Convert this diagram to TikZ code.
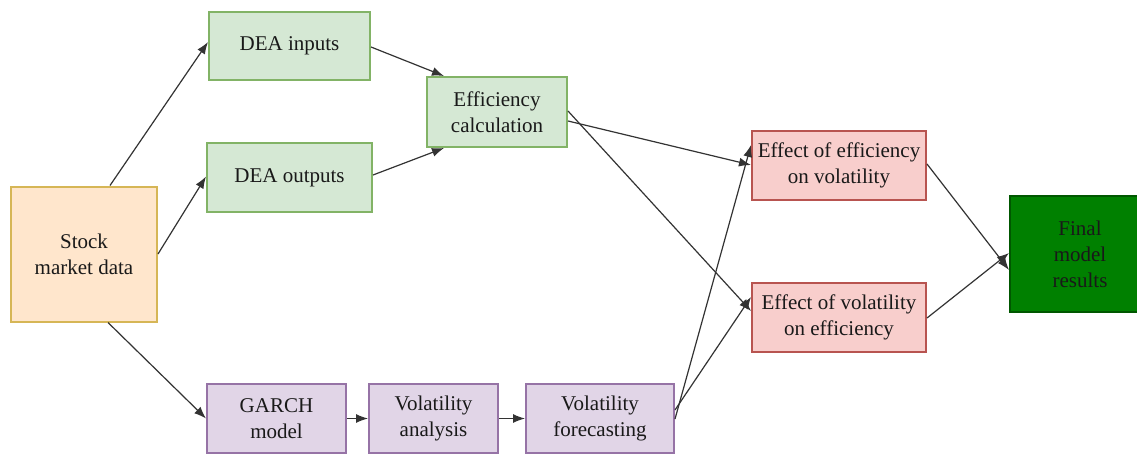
\documentclass[tikz,border=0pt]{standalone}
\usepackage{fontspec}
\setmainfont{Liberation Serif}
\usetikzlibrary{arrows.meta}
\definecolor{gfill}{HTML}{D5E8D4}\definecolor{gdraw}{HTML}{82B366}
\definecolor{ofill}{HTML}{FFE6CC}\definecolor{odraw}{HTML}{D6B656}
\definecolor{pfill}{HTML}{E1D5E7}\definecolor{pdraw}{HTML}{9673A6}
\definecolor{rfill}{HTML}{F8CECC}\definecolor{rdraw}{HTML}{B85450}
\definecolor{dfill}{HTML}{008000}\definecolor{ddraw}{HTML}{005700}
\begin{document}
\begin{tikzpicture}[x=1pt,y=-1pt,
  box/.style={draw, line width=2pt, align=center, inner sep=0pt,
    font=\fontsize{21}{26}\selectfont, text=black!90},
  gbox/.style={box, fill=gfill, draw=gdraw},
  obox/.style={box, fill=ofill, draw=odraw},
  pbox/.style={box, fill=pfill, draw=pdraw},
  rbox/.style={box, fill=rfill, draw=rdraw},
  dbox/.style={box, fill=dfill, draw=ddraw},
  arr/.style={-{Latex[length=12pt,width=9pt]}, line width=1.2pt, draw=black!80}]
\clip (0,0) rectangle (1137,455);
\fill[white] (0,0) rectangle (1137,455);
% nodes: positioned by centre, sized to pixel extents
\node[obox, minimum width=146pt, minimum height=135pt] (stock) at (84,254) {Stock\\market data};
\node[gbox, minimum width=161pt, minimum height=68pt] (din) at (289.5,46) {DEA inputs};
\node[gbox, minimum width=165pt, minimum height=69pt] (dout) at (289.5,177.5) {DEA outputs};
\node[gbox, minimum width=140pt, minimum height=70pt] (eff) at (497,112) {Efficiency\\calculation};
\node[rbox, minimum width=174pt, minimum height=69pt] (ev) at (839,165.5) {Effect of efficiency\\on volatility};
\node[rbox, minimum width=174pt, minimum height=69pt] (ve) at (839,317.5) {Effect of volatility\\on efficiency};
\node[dbox, minimum width=140pt, minimum height=116pt, text width=127pt] (fin) at (1080,254) {Final\\model\\results};
\node[pbox, minimum width=139pt, minimum height=69pt] (garch) at (276.5,418.5) {GARCH\\model};
\node[pbox, minimum width=129pt, minimum height=69pt] (va) at (433.5,418.5) {Volatility\\analysis};
\node[pbox, minimum width=148pt, minimum height=69pt] (vf) at (600,418.5) {Volatility\\forecasting};
% connectors
\draw[arr] ([xshift=26pt]stock.north) -- ([yshift=4pt]din.west);
\draw[arr] (stock.east) -- ([yshift=1pt]dout.west);
\draw[arr] ([xshift=24pt]stock.south) -- ([yshift=0pt]garch.west);
\draw[arr] ([yshift=-1pt]din.east) -- ([xshift=18pt]eff.north west);
\draw[arr] ([yshift=2.5pt]dout.east) -- ([xshift=18pt]eff.south west);
\draw[arr] ([yshift=-9pt]eff.east) -- ([yshift=0.5pt]ev.west);
\draw[arr] ([yshift=1pt]eff.east) -- ([yshift=6.5pt]ve.west);
\draw[arr] ([yshift=-0.5pt]vf.east) -- ([yshift=20.5pt]ev.west);
\draw[arr] ([yshift=8.5pt]vf.east) -- ([yshift=20.5pt]ve.west);
\draw[arr] ([yshift=1.5pt]ev.east) -- ([yshift=-16pt]fin.west);
\draw[arr] ([yshift=-0.5pt]ve.east) -- ([yshift=1pt]fin.west);
\draw[arr] (garch) -- (va);
\draw[arr] (va) -- (vf);
\end{tikzpicture}
\end{document}
